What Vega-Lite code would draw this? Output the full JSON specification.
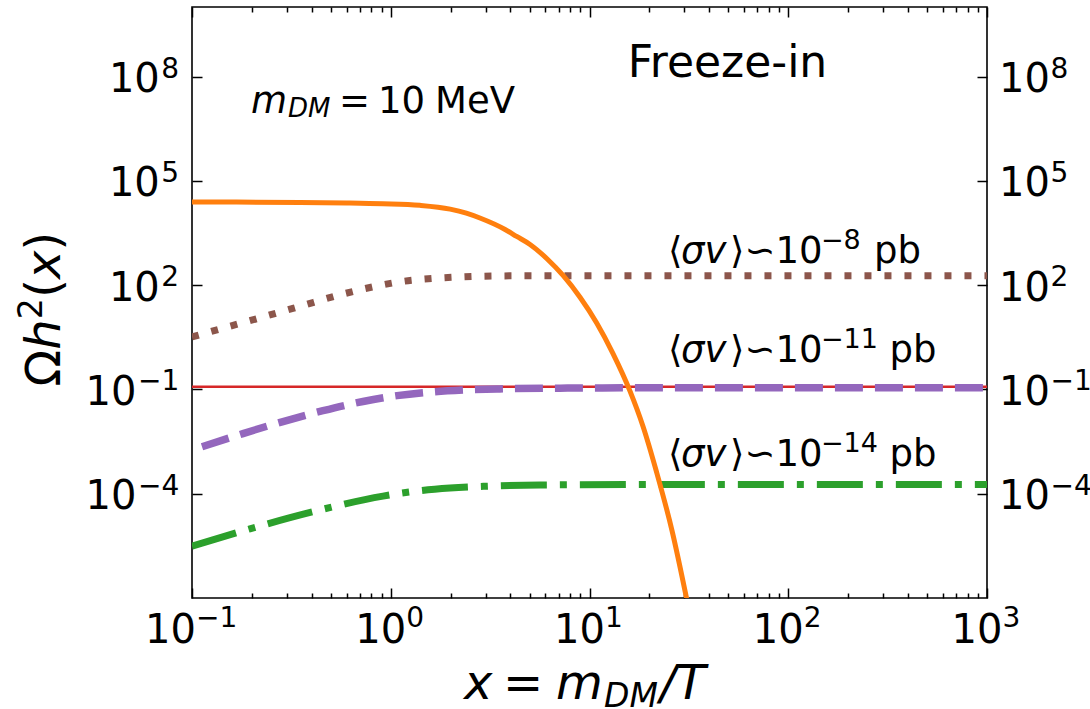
{
  "$schema": "https://vega.github.io/schema/vega-lite/v6.json",
  "width": 795,
  "height": 591,
  "autosize": "none",
  "padding": {"left": 192, "top": 7, "right": 103, "bottom": 111},
  "background": "white",
  "config": {
    "font": "DejaVu Sans",
    "view": {"stroke": "black", "strokeWidth": 1.6},
    "axis": {"grid": false, "domain": false, "labelColor": "black", "tickColor": "black", "labelFont": "DejaVu Sans", "labelFontSize": 40, "tickWidth": 1.5, "labelFlush": false, "labelOverlap": false, "labelBound": false}
  },
  "datasets": {
    "red": [{"x": 0.1, "y": 0.12}, {"x": 1000, "y": 0.12}],
    "brown": [{"x": 0.1, "y": 3.24}, {"x": 0.1336, "y": 5.157}, {"x": 0.2149, "y": 11.07}, {"x": 0.3495, "y": 24.56}, {"x": 0.5555, "y": 52.72}, {"x": 0.9142, "y": 102.4}, {"x": 1.1131, "y": 125.0}, {"x": 1.4033, "y": 145.6}, {"x": 1.7691, "y": 160.9}, {"x": 2.231, "y": 172.0}, {"x": 2.8121, "y": 180.1}, {"x": 4.4711, "y": 185.0}, {"x": 35.97, "y": 186.2}, {"x": 1000, "y": 186.2}],
    "purple": [{"x": 0.1123, "y": 0.00225}, {"x": 0.1805, "y": 0.00537}, {"x": 0.287, "y": 0.01192}, {"x": 0.456, "y": 0.02441}, {"x": 0.7251, "y": 0.04498}, {"x": 1.075, "y": 0.06613}, {"x": 1.5757, "y": 0.08396}, {"x": 2.3635, "y": 0.09654}, {"x": 3.545, "y": 0.1035}, {"x": 7.1046, "y": 0.1087}, {"x": 35.97, "y": 0.1117}, {"x": 1000, "y": 0.1117}],
    "green": [{"x": 0.1, "y": 3.076e-6}, {"x": 0.1957, "y": 9.77e-6}, {"x": 0.4255, "y": 3.251e-5}, {"x": 0.9142, "y": 8.51e-5}, {"x": 1.3243, "y": 1.171e-4}, {"x": 1.9867, "y": 1.449e-4}, {"x": 2.9796, "y": 1.633e-4}, {"x": 5.6355, "y": 1.78e-4}, {"x": 35.97, "y": 1.852e-4}, {"x": 1000, "y": 1.852e-4}],
    "orange": [{"x": 0.1, "y": 24547}, {"x": 0.35, "y": 23988}, {"x": 0.6, "y": 23174}, {"x": 0.914, "y": 21979}, {"x": 1.4, "y": 19724}, {"x": 1.99, "y": 15311}, {"x": 2.4, "y": 11749}, {"x": 2.81, "y": 8511}, {"x": 3.76, "y": 3981}, {"x": 4.3, "y": 2512}, {"x": 5.02, "y": 1479}, {"x": 6.11, "y": 575.4}, {"x": 7.38, "y": 186.2}, {"x": 8.96, "y": 44.67}, {"x": 10.87, "y": 8.128}, {"x": 13.13, "y": 1.0715}, {"x": 15.99, "y": 0.08913}, {"x": 18.58, "y": 0.00871}, {"x": 21.78, "y": 4.074e-4}, {"x": 26.01, "y": 8.71e-6}, {"x": 30.84, "y": 9.33e-8}],
    "freeze": [{"x": 15.57, "y": 9.89e7, "t": "Freeze-in"}],
    "norm37": [
      {"x": 24.83, "y": 427, "t": "⟨"}, {"x": 50.9, "y": 427, "t": "⟩∽10"}, {"x": 270, "y": 427, "t": "pb"},
      {"x": 24.83, "y": 0.596, "t": "⟨"}, {"x": 50.9, "y": 0.596, "t": "⟩∽10"}, {"x": 323.6, "y": 0.596, "t": "pb"},
      {"x": 24.83, "y": 6.37e-4, "t": "⟨"}, {"x": 50.9, "y": 6.37e-4, "t": "⟩∽10"}, {"x": 323.6, "y": 6.37e-4, "t": "pb"},
      {"x": 0.549, "y": 9.06e6, "t": "="}, {"x": 0.8625, "y": 9.06e6, "t": "10"}, {"x": 1.67, "y": 9.06e6, "t": "MeV"}
    ],
    "ital37": [
      {"x": 28.87, "y": 427, "t": "σv"}, {"x": 28.87, "y": 0.596, "t": "σv"}, {"x": 28.87, "y": 6.37e-4, "t": "σv"},
      {"x": 0.1981, "y": 9.06e6, "t": "m"}
    ],
    "sup27": [
      {"x": 146.1, "y": 1082, "t": "−8"}, {"x": 146.1, "y": 1.51, "t": "−11"}, {"x": 146.1, "y": 1.614e-3, "t": "−14"}
    ],
    "subital26": [{"x": 0.304, "y": 6.95e6, "t": "DM"}],
    "xtnorm": [{"x": 3.671, "y": 1.213e-10, "t": "="}],
    "xtital": [{"x": 2.337, "y": 1.213e-10, "t": "x"}, {"x": 6.783, "y": 1.213e-10, "t": "m"}, {"x": 22.63, "y": 1.213e-10, "t": "/T"}],
    "xtsub": [{"x": 11.83, "y": 7.2e-11, "t": "DM"}],
    "ytnorm": [{"x": 0.02167, "y": 0.1211, "t": "Ω"}, {"x": 0.02167, "y": 43.2, "t": "("}, {"x": 0.02167, "y": 986, "t": ")"}],
    "ytital": [{"x": 0.02167, "y": 1.384, "t": "h"}, {"x": 0.02167, "y": 149.6, "t": "x"}],
    "ytsup": [{"x": 0.01759, "y": 10.42, "t": "2"}]
  },
  "layer": [
    {
      "data": {"name": "red"},
      "mark": {"type": "line", "color": "#d62728", "strokeWidth": 2.5, "clip": true},
      "encoding": {
        "x": {"field": "x", "type": "quantitative", "scale": {"type": "log", "domain": [0.1, 1000]},
              "axis": {"orient": "bottom", "values": [0.1, 1, 10, 100, 1000], "ticks": false, "labelBaseline": "alphabetic", "labelPadding": 44, "title": null,
                       "labelOffset": {"condition": {"test": "datum.value < 0.5", "value": -22}, "value": -10.5},
                       "labelExpr": "'10'"}},
        "y": {"field": "y", "type": "quantitative", "scale": {"type": "log", "domain": [1e-7, 1e10]},
              "axis": {"orient": "left", "values": [1e-4, 0.1, 100, 100000, 100000000], "ticks": false, "labelAlign": "right", "labelBaseline": "alphabetic", "labelOffset": 15, "title": null,
                       "labelPadding": {"condition": {"test": "datum.value < 1", "value": 56}, "value": 32.7},
                       "labelExpr": "'10'"}}
      }
    },
    {
      "data": {"name": "brown"},
      "mark": {"type": "line", "color": "#8c564b", "strokeWidth": 7, "strokeDash": [7, 13], "strokeCap": "butt", "interpolate": "monotone", "clip": true},
      "encoding": {
        "x": {"field": "x", "type": "quantitative", "scale": {"type": "log", "domain": [0.1, 1000]},
              "axis": {"orient": "bottom", "values": [0.1, 1, 10, 100, 1000], "ticks": false, "labelAlign": "left", "labelBaseline": "alphabetic", "labelPadding": 28.7, "labelFontSize": 28, "title": null,
                       "labelOffset": {"condition": {"test": "datum.value < 0.5", "value": 3.5}, "value": 15},
                       "labelExpr": "datum.value < 0.5 ? '−1' : datum.value < 5 ? '0' : datum.value < 50 ? '1' : datum.value < 500 ? '2' : '3'"}},
        "y": {"field": "y", "type": "quantitative", "scale": {"type": "log", "domain": [1e-7, 1e10]},
              "axis": {"orient": "left", "values": [1e-4, 0.1, 100, 100000, 100000000], "ticks": false, "labelAlign": "right", "labelBaseline": "alphabetic", "labelOffset": 0.5, "labelPadding": 13.3, "labelFontSize": 28, "title": null,
                       "labelExpr": "datum.value < 0.001 ? '−4' : datum.value < 1 ? '−1' : datum.value < 1000 ? '2' : datum.value < 1000000 ? '5' : '8'"}}
      }
    },
    {
      "data": {"name": "purple"},
      "mark": {"type": "line", "color": "#9467bd", "strokeWidth": 7.5, "strokeDash": [28, 12], "strokeCap": "butt", "interpolate": "monotone", "clip": true},
      "encoding": {
        "x": {"field": "x", "type": "quantitative", "scale": {"type": "log", "domain": [0.1, 1000]},
              "axis": {"orient": "bottom", "values": [0.1, 1, 10, 100, 1000], "labels": false, "tickSize": -10, "title": null}},
        "y": {"field": "y", "type": "quantitative", "scale": {"type": "log", "domain": [1e-7, 1e10]},
              "axis": {"orient": "right", "values": [1e-4, 0.1, 100, 100000, 100000000], "ticks": false, "labelAlign": "left", "labelBaseline": "alphabetic", "labelOffset": 15, "labelPadding": 11.6, "title": null,
                       "labelExpr": "'10'"}}
      }
    },
    {
      "data": {"name": "green"},
      "mark": {"type": "line", "color": "#2ca02c", "strokeWidth": 7, "strokeDash": [46, 13, 7, 13], "strokeCap": "butt", "interpolate": "monotone", "clip": true},
      "encoding": {
        "x": {"field": "x", "type": "quantitative", "scale": {"type": "log", "domain": [0.1, 1000]},
              "axis": {"orient": "bottom", "values": [0.2, 0.3, 0.4, 0.5, 0.6, 0.7, 0.8, 0.9, 2, 3, 4, 5, 6, 7, 8, 9, 20, 30, 40, 50, 60, 70, 80, 90, 200, 300, 400, 500, 600, 700, 800, 900], "labels": false, "tickSize": -5, "title": null}},
        "y": {"field": "y", "type": "quantitative", "scale": {"type": "log", "domain": [1e-7, 1e10]},
              "axis": {"orient": "right", "values": [1e-4, 0.1, 100, 100000, 100000000], "ticks": false, "labelAlign": "left", "labelBaseline": "alphabetic", "labelOffset": 0.5, "labelPadding": 63, "labelFontSize": 28, "title": null,
                       "labelExpr": "datum.value < 0.001 ? '−4' : datum.value < 1 ? '−1' : datum.value < 1000 ? '2' : datum.value < 1000000 ? '5' : '8'"}}
      }
    },
    {
      "data": {"name": "orange"},
      "mark": {"type": "line", "color": "#ff7f0e", "strokeWidth": 5, "interpolate": "monotone", "clip": true},
      "encoding": {
        "x": {"field": "x", "type": "quantitative", "scale": {"type": "log", "domain": [0.1, 1000]},
              "axis": {"orient": "top", "values": [0.1, 1, 10, 100, 1000], "labels": false, "tickSize": -10, "title": null}},
        "y": {"field": "y", "type": "quantitative", "scale": {"type": "log", "domain": [1e-7, 1e10]},
              "axis": {"orient": "left", "values": [1e-4, 0.1, 100, 100000, 100000000], "labels": false, "tickSize": -10, "title": null}}
      }
    },
    {
      "data": {"name": "freeze"},
      "mark": {"type": "text", "font": "DejaVu Sans", "fontSize": 44, "align": "left", "baseline": "alphabetic", "color": "black"},
      "encoding": {
        "x": {"field": "x", "type": "quantitative", "scale": {"type": "log", "domain": [0.1, 1000]},
              "axis": {"orient": "top", "values": [0.2, 0.3, 0.4, 0.5, 0.6, 0.7, 0.8, 0.9, 2, 3, 4, 5, 6, 7, 8, 9, 20, 30, 40, 50, 60, 70, 80, 90, 200, 300, 400, 500, 600, 700, 800, 900], "labels": false, "tickSize": -5, "title": null}},
        "y": {"field": "y", "type": "quantitative", "scale": {"type": "log", "domain": [1e-7, 1e10]},
              "axis": {"orient": "right", "values": [1e-4, 0.1, 100, 100000, 100000000], "labels": false, "tickSize": -10, "title": null}},
        "text": {"field": "t"}
      }
    },
    {
      "data": {"name": "norm37"},
      "mark": {"type": "text", "font": "DejaVu Sans", "fontSize": 37, "align": "left", "baseline": "alphabetic", "color": "black"},
      "encoding": {
        "x": {"field": "x", "type": "quantitative", "scale": {"type": "log", "domain": [0.1, 1000]}, "axis": null},
        "y": {"field": "y", "type": "quantitative", "scale": {"type": "log", "domain": [1e-7, 1e10]}, "axis": null},
        "text": {"field": "t"}
      }
    },
    {
      "data": {"name": "ital37"},
      "mark": {"type": "text", "font": "DejaVu Sans", "fontSize": 37, "fontStyle": "italic", "align": "left", "baseline": "alphabetic", "color": "black"},
      "encoding": {
        "x": {"field": "x", "type": "quantitative", "scale": {"type": "log", "domain": [0.1, 1000]}, "axis": null},
        "y": {"field": "y", "type": "quantitative", "scale": {"type": "log", "domain": [1e-7, 1e10]}, "axis": null},
        "text": {"field": "t"}
      }
    },
    {
      "data": {"name": "sup27"},
      "mark": {"type": "text", "font": "DejaVu Sans", "fontSize": 27, "align": "left", "baseline": "alphabetic", "color": "black"},
      "encoding": {
        "x": {"field": "x", "type": "quantitative", "scale": {"type": "log", "domain": [0.1, 1000]}, "axis": null},
        "y": {"field": "y", "type": "quantitative", "scale": {"type": "log", "domain": [1e-7, 1e10]}, "axis": null},
        "text": {"field": "t"}
      }
    },
    {
      "data": {"name": "subital26"},
      "mark": {"type": "text", "font": "DejaVu Sans", "fontSize": 26, "fontStyle": "italic", "align": "left", "baseline": "alphabetic", "color": "black"},
      "encoding": {
        "x": {"field": "x", "type": "quantitative", "scale": {"type": "log", "domain": [0.1, 1000]}, "axis": null},
        "y": {"field": "y", "type": "quantitative", "scale": {"type": "log", "domain": [1e-7, 1e10]}, "axis": null},
        "text": {"field": "t"}
      }
    },
    {
      "data": {"name": "xtnorm"},
      "mark": {"type": "text", "font": "DejaVu Sans", "fontSize": 48, "align": "left", "baseline": "alphabetic", "color": "black"},
      "encoding": {
        "x": {"field": "x", "type": "quantitative", "scale": {"type": "log", "domain": [0.1, 1000]}, "axis": null},
        "y": {"field": "y", "type": "quantitative", "scale": {"type": "log", "domain": [1e-7, 1e10]}, "axis": null},
        "text": {"field": "t"}
      }
    },
    {
      "data": {"name": "xtital"},
      "mark": {"type": "text", "font": "DejaVu Sans", "fontSize": 48, "fontStyle": "italic", "align": "left", "baseline": "alphabetic", "color": "black"},
      "encoding": {
        "x": {"field": "x", "type": "quantitative", "scale": {"type": "log", "domain": [0.1, 1000]}, "axis": null},
        "y": {"field": "y", "type": "quantitative", "scale": {"type": "log", "domain": [1e-7, 1e10]}, "axis": null},
        "text": {"field": "t"}
      }
    },
    {
      "data": {"name": "xtsub"},
      "mark": {"type": "text", "font": "DejaVu Sans", "fontSize": 33, "fontStyle": "italic", "align": "left", "baseline": "alphabetic", "color": "black"},
      "encoding": {
        "x": {"field": "x", "type": "quantitative", "scale": {"type": "log", "domain": [0.1, 1000]}, "axis": null},
        "y": {"field": "y", "type": "quantitative", "scale": {"type": "log", "domain": [1e-7, 1e10]}, "axis": null},
        "text": {"field": "t"}
      }
    },
    {
      "data": {"name": "ytnorm"},
      "mark": {"type": "text", "font": "DejaVu Sans", "fontSize": 48, "angle": 270, "align": "left", "baseline": "alphabetic", "color": "black"},
      "encoding": {
        "x": {"field": "x", "type": "quantitative", "scale": {"type": "log", "domain": [0.1, 1000]}, "axis": null},
        "y": {"field": "y", "type": "quantitative", "scale": {"type": "log", "domain": [1e-7, 1e10]}, "axis": null},
        "text": {"field": "t"}
      }
    },
    {
      "data": {"name": "ytital"},
      "mark": {"type": "text", "font": "DejaVu Sans", "fontSize": 48, "fontStyle": "italic", "angle": 270, "align": "left", "baseline": "alphabetic", "color": "black"},
      "encoding": {
        "x": {"field": "x", "type": "quantitative", "scale": {"type": "log", "domain": [0.1, 1000]}, "axis": null},
        "y": {"field": "y", "type": "quantitative", "scale": {"type": "log", "domain": [1e-7, 1e10]}, "axis": null},
        "text": {"field": "t"}
      }
    },
    {
      "data": {"name": "ytsup"},
      "mark": {"type": "text", "font": "DejaVu Sans", "fontSize": 33, "angle": 270, "align": "left", "baseline": "alphabetic", "color": "black"},
      "encoding": {
        "x": {"field": "x", "type": "quantitative", "scale": {"type": "log", "domain": [0.1, 1000]}, "axis": null},
        "y": {"field": "y", "type": "quantitative", "scale": {"type": "log", "domain": [1e-7, 1e10]}, "axis": null},
        "text": {"field": "t"}
      }
    }
  ],
  "resolve": {"axis": {"x": "independent", "y": "independent"}}
}
